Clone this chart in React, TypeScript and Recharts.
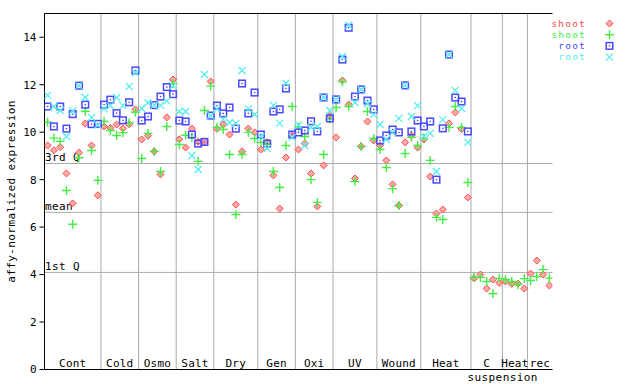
import React from 'react';
import { ScatterChart, Scatter, XAxis, YAxis, ReferenceLine, Legend } from 'recharts';

const FONT = "'DejaVu Sans Mono', monospace";

const groupLabels = ['Cont', 'Cold', 'Osmo', 'Salt', 'Dry', 'Gen', 'Oxi', 'UV', 'Wound', 'Heat', 'C suspension', 'Heat', 'rec'];
const groupSizes = [9, 6, 6, 6, 7, 6, 6, 7, 7, 8, 5, 4, 4];

const shootRed = [
  9.44, 9.24, 9.37, 8.26, 7.0, 9.14, 10.36, 9.44, 7.34,
  10.24, 10.18, 10.32, 10.16, 10.33, 10.96,
  9.69, 9.85, 9.19, 8.22, 10.62, 12.22,
  9.7, 9.35, 10.15, 9.6, 9.6, 12.14,
  10.14, 10.32, 9.9, 6.95, 9.19, 10.15, 9.99,
  9.27, 9.58, 8.18, 6.78, 8.93, 9.86,
  9.27, 9.52, 8.26, 6.87, 8.6, 10.68,
  9.78, 12.18, 11.17, 8.05, 9.4, 10.45, 9.65,
  9.44, 8.81, 7.8, 6.91, 9.57, 9.86, 9.35,
  9.69, 8.13, 6.57, 6.74, 10.37, 10.83, 10.13, 7.25,
  3.84, 4.0, 3.41, 3.79, 3.65,
  3.71, 3.61, 3.62, 3.41,
  4.04, 4.59, 4.0, 3.54,
];

const shootGreen = [
  10.42, 9.75, 9.61, 7.54, 6.12, 8.92, 10.88, 9.23, 7.97,
  10.45, 10.07, 9.86, 9.98, 10.4, 10.84,
  8.89, 9.95, 9.19, 8.34, 10.24, 12.05,
  9.48, 9.87, 9.78, 8.77, 10.91, 11.94,
  10.2, 10.11, 9.06, 6.53, 9.06, 9.99, 9.73,
  9.57, 9.5, 8.34, 7.67, 9.44, 11.08,
  10.22, 9.82, 8.0, 7.04, 9.06, 10.55,
  11.04, 12.12, 11.08, 7.92, 9.4, 10.87, 9.73,
  9.27, 8.51, 7.62, 6.91, 9.1, 9.78, 9.44,
  9.75, 8.81, 6.41, 6.32, 10.2, 11.08, 10.2, 7.88,
  3.88, 3.88, 3.71, 3.2, 3.84,
  3.79, 3.71, 3.58, 3.83,
  3.75, 3.92, 4.21, 3.85,
];

const rootBlue = [
  11.08, 10.24, 11.08, 10.15, 10.76, 11.96, 11.16, 10.34, 10.35,
  11.16, 11.37, 10.8, 10.5, 11.26, 12.6,
  10.49, 10.66, 11.14, 11.5, 11.9, 11.6,
  10.49, 10.45, 9.9, 9.52, 9.59, 10.7,
  11.12, 10.79, 11.04, 10.15, 12.05, 10.79, 11.67,
  9.9, 9.52, 10.87, 10.96, 11.84, 9.9,
  9.99, 10.07, 10.46, 10.03, 11.46, 10.58,
  11.38, 13.06, 14.4, 11.5, 11.8, 11.33, 10.96,
  9.65, 9.86, 10.11, 9.99, 11.97, 10.03, 10.49,
  10.24, 10.45, 8.0, 10.16, 13.27, 11.46, 11.29, 10.03,
];

const rootCyan = [
  11.55, 11.08, 10.91, 9.82, 10.89, 11.96, 11.46, 10.62, 10.3,
  10.98, 11.12, 11.46, 11.12, 11.93, 12.5,
  11.0, 11.24, 11.14, 11.13, 11.32, 11.95,
  10.87, 10.87, 9.02, 8.43, 12.43, 10.7,
  10.98, 10.54, 10.41, 10.37, 12.6, 10.98, 10.75,
  9.82, 9.31, 11.13, 10.37, 12.06, 9.78,
  10.3, 9.44, 10.2, 10.24, 11.46, 10.91,
  11.38, 13.19, 14.5, 11.25, 11.8, 11.2, 10.75,
  10.32, 9.69, 9.99, 10.58, 11.97, 10.66, 11.12,
  9.82, 9.95, 8.34, 10.53, 13.27, 11.76, 11.0, 9.57,
];

const quartileValues = [8.68, 6.62, 4.09];
const quartileLabels = ['3rd Q', 'mean', '1st Q'];
const yTicks = [0, 2, 4, 6, 8, 10, 12, 14];
const seriesNames = ['shoot', 'shoot', 'root', 'root'];
const seriesColors = ['#ff4848', '#44ee44', '#4848ff', '#55eeee'];

const toPoints = (arr: number[]) => arr.map((v, i) => ({ x: i + 0.5, y: v }));

const totalSlots = groupSizes.reduce((a, b) => a + b, 0);
const boundaries: number[] = [];
const centers: number[] = [];
{
  let acc = 0;
  groupSizes.forEach((s) => {
    centers.push(acc + s / 2);
    acc += s;
    boundaries.push(acc);
  });
  boundaries.pop();
}

const Diamond = ({ cx, cy }: any) => (
  <polygon
    points={`${cx},${cy - 3.5} ${cx + 3.5},${cy} ${cx},${cy + 3.5} ${cx - 3.5},${cy}`}
    fill="#ffa8a8"
    stroke={seriesColors[0]}
    strokeWidth={1}
  />
);
const Plus = ({ cx, cy }: any) => (
  <g stroke={seriesColors[1]} strokeWidth={1.4}>
    <line x1={cx - 4.5} y1={cy} x2={cx + 4.5} y2={cy} />
    <line x1={cx} y1={cy - 4.5} x2={cx} y2={cy + 4.5} />
  </g>
);
const Square = ({ cx, cy }: any) => (
  <g>
    <rect x={cx - 3.3} y={cy - 3.3} width={6.6} height={6.6} fill="none" stroke={seriesColors[2]} strokeWidth={1.5} />
    <rect x={cx - 0.7} y={cy - 0.7} width={1.4} height={1.4} fill={seriesColors[2]} />
  </g>
);
const Cross = ({ cx, cy }: any) => (
  <g stroke={seriesColors[3]} strokeWidth={1.3}>
    <line x1={cx - 3.5} y1={cy - 3.5} x2={cx + 3.5} y2={cy + 3.5} />
    <line x1={cx - 3.5} y1={cy + 3.5} x2={cx + 3.5} y2={cy - 3.5} />
  </g>
);
const shapes = [Diamond, Plus, Square, Cross];

const XTick = (props: any) => {
  const { x, y, index } = props;
  const label = groupLabels[index] || '';
  const parts = label.split(' ');
  return (
    <g>
      <text x={x} y={y - 2.5} textAnchor="middle" fontFamily={FONT} fontSize={11} letterSpacing={0.2} fill="#000">
        {parts[0]}
      </text>
      {parts.length > 1 && (
        <text x={x + 16} y={y + 11} textAnchor="middle" fontFamily={FONT} fontSize={11} letterSpacing={0.4} fill="#000">
          {parts.slice(1).join(' ')}
        </text>
      )}
    </g>
  );
};

const EmptyTick = () => <g />;

const YTitle = (props: any) => {
  const vb = props.viewBox || { x: 10.5, y: 13.5, width: 34, height: 356 };
  const cx = 11.5;
  const cy = vb.y + vb.height / 2;
  return (
    <text
      x={cx}
      y={cy}
      transform={`rotate(-90, ${cx}, ${cy})`}
      textAnchor="middle"
      dominantBaseline="central"
      fontFamily={FONT}
      fontSize={11}
      letterSpacing={0.4}
      fill="#000"
    >
      affy-normalized expression
    </text>
  );
};

const QLabel = (text: string) => (props: any) => {
  const vb = props.viewBox;
  return (
    <text x={vb.x + 0.5} y={vb.y - 2} fontFamily={FONT} fontSize={11} letterSpacing={0.4} fill="#000">
      {text}
    </text>
  );
};

const LegendBox = () => (
  <svg width={95} height={52} style={{ display: 'block' }}>
    {seriesNames.map((name, i) => {
      const cy = 8.5 + i * 11.2;
      const Shape = shapes[i];
      return (
        <g key={i}>
          <text x={46} y={cy + 3.3} textAnchor="end" fontFamily={FONT} fontSize={9.5} letterSpacing={1.2} fill={seriesColors[i]}>
            {name}
          </text>
          <Shape cx={69.5} cy={cy} />
        </g>
      );
    })}
  </svg>
);

export default function App() {
  const series = [shootRed, shootGreen, rootBlue, rootCyan];
  return (
    <div style={{ position: 'absolute', left: 0, top: 0, width: 640, height: 384, background: '#fff' }}>
      <ScatterChart width={640} height={384} margin={{ top: 13.5, right: 87.5, bottom: 0, left: 10.5 }}>
        <XAxis
          type="number"
          dataKey="x"
          domain={[0, totalSlots]}
          ticks={centers}
          interval={0}
          tickLine={false}
          tickSize={0}
          tickMargin={0}
          height={14.5}
          axisLine={{ stroke: '#000' }}
          tick={<XTick />}
          allowDataOverflow
        />
        <YAxis
          type="number"
          dataKey="y"
          domain={[0, 15]}
          ticks={yTicks}
          width={34}
          axisLine={{ stroke: '#000' }}
          tickLine={{ stroke: '#000' }}
          tickSize={5}
          tickMargin={3}
          tick={{ fontFamily: FONT, fontSize: 11, fill: '#000' }}
          label={<YTitle />}
          allowDataOverflow
        />
        <YAxis
          yAxisId="r"
          orientation="right"
          type="number"
          domain={[0, 15]}
          ticks={yTicks}
          width={0}
          mirror
          axisLine={{ stroke: '#000' }}
          tickLine={{ stroke: '#000' }}
          tickSize={5}
          tick={<EmptyTick />}
        />
        {boundaries.map((b, i) => (
          <ReferenceLine key={'v' + i} x={b} stroke="#aaaaaa" strokeWidth={1} />
        ))}
        {quartileValues.map((q, i) => (
          <ReferenceLine key={'q' + i} y={q} stroke="#aaaaaa" strokeWidth={1} label={QLabel(quartileLabels[i])} />
        ))}
        <ReferenceLine y={15} stroke="#000" strokeWidth={1} />
        {series.map((arr, i) => (
          <Scatter
            key={i}
            name={seriesNames[i]}
            data={toPoints(arr)}
            fill={seriesColors[i]}
            shape={shapes[i]}
            isAnimationActive={false}
          />
        ))}
        <Legend
          layout="horizontal"
          verticalAlign="middle"
          align="center"
          content={() => <LegendBox />}
          wrapperStyle={{ position: 'absolute', left: 540, top: 15, width: 95, height: 52 }}
        />
      </ScatterChart>
    </div>
  );
}
